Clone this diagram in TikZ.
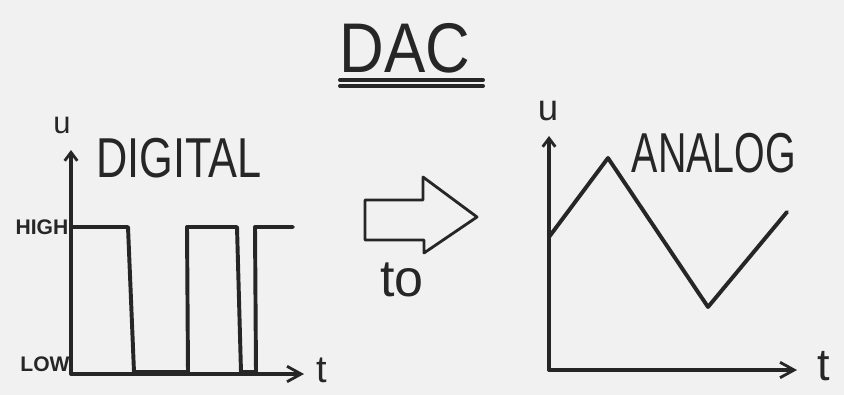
\documentclass[tikz,border=0pt]{standalone}
\usepackage{fontspec}
\setmainfont{Liberation Sans}
\usetikzlibrary{arrows.meta, positioning}
\definecolor{paperGrey}{HTML}{F1F1F1}
\definecolor{inkBlack}{HTML}{262626}
\newcommand{\squeeze}[2]{\scalebox{#1}[1]{#2}}

\begin{document}
\begin{tikzpicture}[
    x=0.025cm, y=-0.025cm,
    ink/.style={draw=inkBlack, line width=2.3pt, line join=round, line cap=round},
    uaxis/.style={ink, -{Straight Barb[length=6pt, width=9pt, line width=2pt]}},
    taxis/.style={ink, -{Straight Barb[length=10pt, width=11pt, line width=2pt]}},
    signal/.style={ink, line width=2.8pt},
    hand/.style={text=inkBlack, inner sep=0pt, font=\fontsize{#1}{#1}\selectfont}
]
    % Paper
    \fill[paperGrey] (0,0) rectangle (844,395);
    \useasboundingbox (0,0) rectangle (844,395);

    % Title
    \node[hand=50] (title) at (405,48) {\squeeze{0.88}{DAC}};
    \draw[ink, line width=2.8pt] (340,80) -- (483,80);
    \draw[ink, line width=2.8pt] (340,86) -- (483,86);

    % Digital graph
    \coordinate (oL) at (71,374);
    \coordinate (uTipL) at (71,150);
    \coordinate (tTipL) at (304,374);
    \draw[uaxis] (oL) -- (uTipL);
    \draw[taxis] (oL) -- (tTipL);
    \node[hand=22] (uL) at (62,125) {u};
    \node[hand=27] (tL) at (322,370) {t};
    \node[hand=15] (high) at (42,227) {\bfseries HIGH};
    \node[hand=15] (low) at (45,364) {\bfseries LOW};
    \node[hand=40] (digital) at (179,158) {\squeeze{0.77}{DIGITAL}};
    \draw[signal] (71,227) -- (128,227) -- (134,372) -- (188,372) -- (187,227)
        -- (237,227) -- (241,372) -- (256,372) -- (255,227) -- (293,227);

    % Block arrow
    \draw[ink, line width=2pt] (365,200) -- (423,200) -- (423,177) -- (477,217)
        -- (424,253) -- (424,240) -- (365,240) -- cycle;
    \node[hand=37] (to) at (402,280) {to};

    % Analog graph
    \coordinate (oR) at (549,370);
    \coordinate (uTipR) at (549,136);
    \coordinate (tTipR) at (797,370);
    \draw[uaxis] (oR) -- (uTipR);
    \draw[taxis] (oR) -- (tTipR);
    \node[hand=26] (uR) at (548,111) {u};
    \node[hand=32] (tR) at (824,366) {t};
    \node[hand=40] (analog) at (714,153) {\squeeze{0.70}{ANALOG}};
    \draw[signal] (549,237) -- (608,158) -- (708,307) -- (787,212);
\end{tikzpicture}
\end{document}
